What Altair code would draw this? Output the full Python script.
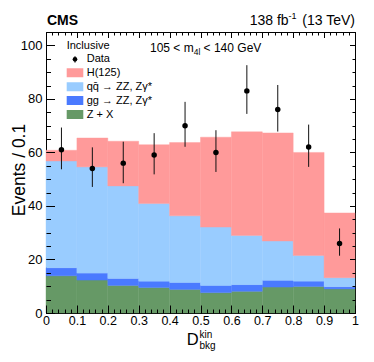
import altair as alt
import pandas as pd

FONT = "Liberation Sans"

# ---------------- data ----------------
bin_lo = [0.0, 0.1, 0.2, 0.3, 0.4, 0.5, 0.6, 0.7, 0.8, 0.9]
bin_hi = [0.1, 0.2, 0.3, 0.4, 0.5, 0.6, 0.7, 0.8, 0.9, 1.0]

zx_vals = [13.9, 12.3, 10.3, 9.5, 8.8, 7.6, 8.1, 9.7, 9.9, 9.0]
ggzz_vals = [3.0, 2.6, 2.6, 2.4, 2.6, 2.7, 2.5, 2.5, 2.0, 0.8]
qqzz_vals = [39.9, 39.7, 34.6, 29.0, 24.9, 21.8, 18.4, 14.7, 9.6, 3.4]
h125_vals = [4.0, 10.8, 16.7, 22.0, 27.4, 33.6, 38.7, 40.4, 38.5, 24.2]

data_n = [61, 54, 56, 59, 70, 60, 83, 76, 62, 26]
data_err_lo = [53.7, 47.1, 48.5, 51.8, 62.1, 52.7, 74.4, 67.8, 54.6, 21.4]
data_err_hi = [69.3, 61.9, 64.0, 67.2, 78.9, 68.3, 92.6, 85.2, 70.4, 31.6]

proc_names = ["Z + X", "gg \u2192 ZZ, Z\u03b3*", "qq\u0304 \u2192 ZZ, Z\u03b3*", "H(125)"]
proc_colors = ["#669966", "#4a7aff", "#99ccff", "#ff9a9a"]

x_major = [0.0, 0.1, 0.2, 0.3, 0.4, 0.5, 0.6, 0.7, 0.8, 0.9, 1.0]
x_minor = [round(i * 0.02, 2) for i in range(51)]
y_major = [0, 20, 40, 60, 80, 100]
y_minor = [i * 5 for i in range(22)]

# ---------------- tables ----------------
rows = []
for k, vals in enumerate([zx_vals, ggzz_vals, qqzz_vals, h125_vals]):
    for i in range(len(bin_lo)):
        rows.append({"lo": bin_lo[i], "hi": bin_hi[i], "value": vals[i],
                     "proc": proc_names[k], "ord": k})
stack_df = pd.DataFrame(rows)

data_df = pd.DataFrame({"lo": bin_lo, "hi": bin_hi, "n": data_n,
                        "elo": data_err_lo, "ehi": data_err_hi})

legend_df = pd.DataFrame({"label": proc_names[::-1], "color": proc_colors[::-1],
                          "row": [0, 1, 2, 3]})
one = pd.DataFrame({"k": [0]})

xs = alt.Scale(domain=[0, 1], nice=False, zero=False)
ys = alt.Scale(domain=[0, 105], nice=False, zero=True)


def tick_axis(orient, values, size):
    return alt.Axis(orient=orient, values=values, tickSize=size, offset=-size,
                    labels=False, domain=False, grid=False, ticks=True, title="",
                    tickColor="black", tickWidth=1, zindex=3)


ax_x_lab = alt.Axis(orient="bottom", values=x_major, format="~g", labelFont=FONT,
                    labelFontSize=12.5, labelColor="black", labelPadding=1,
                    ticks=False, tickSize=0, domain=False, grid=False, title="",
                    labelOverlap=False, labelFlush=False)
ax_y_lab = alt.Axis(orient="left", values=y_major, format="d", labelFont=FONT,
                    labelFontSize=13, labelColor="black", labelPadding=4,
                    ticks=False, tickSize=0, domain=False, grid=False, title="",
                    labelOverlap=False)

color_scale = alt.Scale(domain=proc_names, range=proc_colors)

bars = alt.Chart(stack_df).transform_stack(
    stack="value", groupby=["lo"], as_=["y0", "y1"],
    sort=[alt.SortField("ord", order="ascending")]
).mark_rect(strokeWidth=0.4).encode(
    x=alt.X("lo:Q", scale=xs, axis=ax_x_lab),
    x2="hi:Q",
    y=alt.Y("y0:Q", scale=ys, axis=ax_y_lab),
    y2="y1:Q",
    color=alt.Color("proc:N", scale=color_scale, legend=None),
    stroke=alt.Stroke("proc:N", scale=color_scale, legend=None),
)

data_base = alt.Chart(data_df).transform_calculate(xc="(datum.lo + datum.hi) / 2")

errs = data_base.mark_rule(color="#111111", strokeWidth=1).encode(
    x=alt.X("xc:Q", scale=xs, axis=tick_axis("bottom", x_major, 8)),
    y=alt.Y("elo:Q", scale=ys, axis=tick_axis("left", y_major, 8.5)),
    y2="ehi:Q",
)

pts = data_base.mark_circle(color="black", size=30, opacity=1).encode(
    x=alt.X("xc:Q", scale=xs, axis=tick_axis("bottom", x_minor, 4)),
    y=alt.Y("n:Q", scale=ys, axis=tick_axis("left", y_minor, 4.5)),
)

dum1 = data_base.mark_point(opacity=0).encode(
    x=alt.X("xc:Q", scale=xs, axis=tick_axis("top", x_major, 5.5)),
    y=alt.Y("n:Q", scale=ys, axis=tick_axis("right", y_major, 5.5)),
)
dum2 = data_base.mark_point(opacity=0).encode(
    x=alt.X("xc:Q", scale=xs, axis=tick_axis("top", x_minor, 3)),
    y=alt.Y("n:Q", scale=ys, axis=tick_axis("right", y_minor, 3)),
)


def txt(s, x, y, size, align="left", weight="normal", angle=0):
    return alt.Chart(one).mark_text(
        text=s, font=FONT, fontSize=size, align=align, baseline="alphabetic",
        fontWeight=weight, color="black", angle=angle
    ).encode(x=alt.value(x), y=alt.value(y))


texts = [
    txt("CMS", 1, -7, 14, weight="bold"),
    txt("(13 TeV)", 309, -7, 14, align="right"),
    txt("-1", 250.6, -13, 9, align="right"),
    txt("138 fb", 242.6, -7, 14, align="right"),
    txt("105 < m", 104, 20.3, 12),
    txt("4l", 147.7, 23.0, 8.5),
    txt("< 140 GeV", 157.6, 20.3, 12),
    txt("Inclusive", 20.7, 17, 11),
    txt("Data", 40.7, 30.3, 11),
    txt("D", 140.7, 312.5, 16.5),
    txt("kin", 153.5, 305.5, 10),
    txt("bkg", 153.5, 316.7, 10),
    txt("Events / 0.1", -21.5, 138, 17.5, align="center", angle=270),
]

leg_base = alt.Chart(legend_df).transform_calculate(
    ly0="36.3 + 13.9 * datum.row", ly1="45.3 + 13.9 * datum.row",
    lyt="44.2 + 13.9 * datum.row")
leg_rect = leg_base.mark_rect().encode(
    x=alt.value(20.7), x2=alt.value(37.3),
    y=alt.Y("ly0:Q", scale=None, axis=None), y2="ly1:Q",
    color=alt.Color("color:N", scale=None),
)
leg_text = leg_base.mark_text(font=FONT, fontSize=11, align="left",
                              baseline="alphabetic", color="black").encode(
    x=alt.value(40.7), y=alt.Y("lyt:Q", scale=None, axis=None), text="label:N")

leg_dot = alt.Chart(one).mark_circle(color="black", size=22, opacity=1).encode(
    x=alt.value(29), y=alt.value(27.3))
leg_bar = alt.Chart(one).mark_rule(color="black", strokeWidth=1).encode(
    x=alt.value(29), y=alt.value(24.2), y2=alt.value(30.6))

chart = alt.layer(
    bars, errs, pts, dum1, dum2, leg_rect, leg_text, leg_bar, leg_dot, *texts
).resolve_axis(x="independent", y="independent").properties(
    width=309, height=281,
    autosize=alt.AutoSizeParams(type="none"),
    padding={"left": 38, "top": 24, "right": 11, "bottom": 41},
    background="white",
).configure_view(stroke="black", strokeWidth=1)

chart.save("out.html", embed_options={"renderer": "svg", "actions": False})
